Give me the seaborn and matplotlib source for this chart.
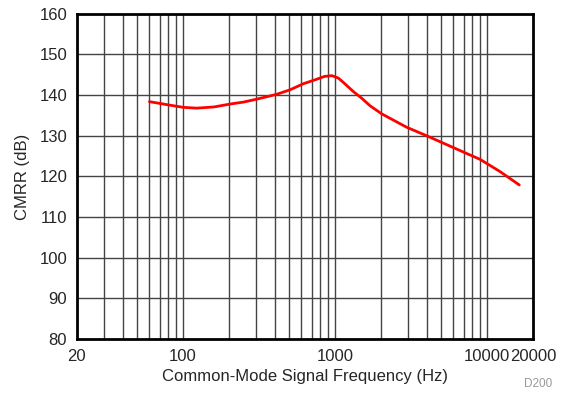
import numpy as np
import pandas as pd
import matplotlib
matplotlib.use("Agg")
import matplotlib.pyplot as plt
from matplotlib.ticker import FixedLocator, NullFormatter
import seaborn as sns

# Values
freq_hz = [60, 80, 100, 123, 160, 203, 250, 304, 412, 504, 617, 755, 850, 950, 1050,
           1150, 1315, 1500, 1694, 2023, 2953, 4000, 5985, 8970, 12140, 16260]
cmrr_db = [138.4, 137.6, 137.0, 136.8, 137.1, 137.8, 138.3, 139.0, 140.2, 141.3,
           142.8, 143.9, 144.6, 144.8, 144.2, 142.9, 140.9, 139.2, 137.4, 135.4,
           132.1, 130.0, 127.1, 124.2, 121.2, 117.9]
x_ticks = [20, 100, 1000, 10000, 20000]
x_tick_labels = ["20", "100", "1000", "10000", "20000"]
y_ticks = [80, 90, 100, 110, 120, 130, 140, 150, 160]

df = pd.DataFrame({"freq": freq_hz, "cmrr": cmrr_db})

sns.set_style("white")
plt.rcParams["font.family"] = ["Liberation Sans", "DejaVu Sans"]

fig, ax = plt.subplots(figsize=(5.61, 3.96), dpi=100)
fig.subplots_adjust(left=0.137, right=0.950, top=0.965, bottom=0.144)

ax.set_xscale("log")
ax.set_xlim(20, 20000)
ax.set_ylim(80, 160)

# grid: every minor decade step on x, every 10 dB on y
minor = [m * 10 ** e for e in range(1, 5) for m in range(1, 10)]
minor = [v for v in minor if 20 < v < 20000]
for v in minor:
    ax.axvline(v, color="#444444", lw=1.0, zorder=1)
for v in y_ticks[1:-1]:
    ax.axhline(v, color="#444444", lw=1.0, zorder=1)

sns.lineplot(data=df, x="freq", y="cmrr", color="#ff0000", lw=2.0, ax=ax, zorder=3)

ax.xaxis.set_major_locator(FixedLocator(x_ticks))
ax.set_xticklabels(x_tick_labels)
ax.xaxis.set_minor_formatter(NullFormatter())
ax.set_yticks(y_ticks)
ax.tick_params(axis="both", which="both", length=0, labelsize=12, pad=7)

for s in ax.spines.values():
    s.set_visible(True)
    s.set_color("black")
    s.set_linewidth(2.0)

ax.set_xlabel("Common-Mode Signal Frequency (Hz)", fontsize=12, labelpad=4)
ax.set_ylabel("CMRR (dB)", fontsize=12, labelpad=7)

fig.text(0.985, 0.015, "D200", color="#999999", fontsize=8.5, ha="right", va="bottom")

fig.savefig("out.png", dpi=100)
